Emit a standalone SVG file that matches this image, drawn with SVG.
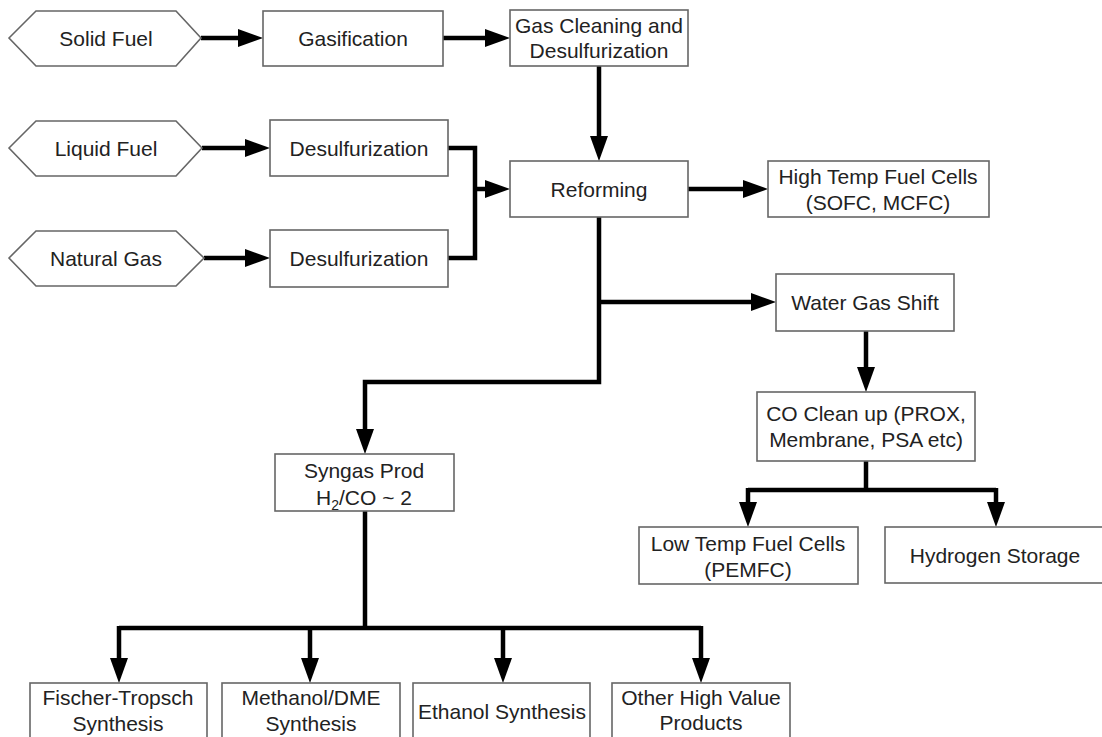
<svg xmlns="http://www.w3.org/2000/svg" width="1102" height="737" viewBox="0 0 1102 737">
<defs>
<marker id="ah" markerUnits="userSpaceOnUse" markerWidth="25" markerHeight="18" refX="0" refY="9" orient="auto" overflow="visible">
<path d="M0,0 L25,9 L0,18 Z" fill="#000"/>
</marker>
<style>
.box{fill:#fff;stroke:#666;stroke-width:1.6}
.t{font-family:"Liberation Sans",Arial,sans-serif;font-size:21px;fill:#222;text-anchor:middle}
.c{fill:none;stroke:#000;stroke-width:4.5;stroke-linejoin:miter}
.a{marker-end:url(#ah)}
</style>
</defs>
<rect width="1102" height="737" fill="#fff"/>
<g id="connectors">
<path class="c a" d="M201,38 H238"/>
<path class="c a" d="M443,38 H485"/>
<path class="c a" d="M599,66 V136"/>
<path class="c a" d="M202,148 H245"/>
<path class="c a" d="M204,258 H245"/>
<path class="c" d="M448,148 H475 V258 H448"/>
<path class="c a" d="M475,189 H485"/>
<path class="c a" d="M688,189 H743"/>
<path class="c a" d="M599,217 V382 H365 V429"/>
<path class="c a" d="M599,302 H751"/>
<path class="c a" d="M866,331 V367"/>
<path class="c" d="M866,461 V490"/>
<path class="c" d="M748,490 H996"/>
<path class="c a" d="M748,488 V502"/>
<path class="c a" d="M996,488 V502"/>
<path class="c" d="M365,511 V628"/>
<path class="c" d="M119,628 H701"/>
<path class="c a" d="M119,626 V658"/>
<path class="c a" d="M310,626 V658"/>
<path class="c a" d="M503,626 V658"/>
<path class="c a" d="M701,626 V658"/>
</g>
<g id="solid-fuel">
<polygon class="box" points="9,38 36,11 176,11 201,38 176,66 36,66"/>
<text class="t" x="106" y="45.5">Solid Fuel</text>
</g>
<g id="gasification">
<rect class="box" x="263" y="11" width="180" height="55"/>
<text class="t" x="353" y="45.5">Gasification</text>
</g>
<g id="gas-cleaning">
<rect class="box" x="510" y="10" width="178" height="56"/>
<text class="t" x="599" y="32.5">Gas Cleaning and</text>
<text class="t" x="599" y="58">Desulfurization</text>
</g>
<g id="liquid-fuel">
<polygon class="box" points="9,148 36,121 176,121 202,148 176,176 36,176"/>
<text class="t" x="106" y="155.5">Liquid Fuel</text>
</g>
<g id="desulf-1">
<rect class="box" x="270" y="120" width="178" height="56"/>
<text class="t" x="359" y="155.5">Desulfurization</text>
</g>
<g id="natural-gas">
<polygon class="box" points="9,258 36,231 176,231 204,258 176,286 36,286"/>
<text class="t" x="106" y="265.5">Natural Gas</text>
</g>
<g id="desulf-2">
<rect class="box" x="270" y="230" width="178" height="57"/>
<text class="t" x="359" y="265.5">Desulfurization</text>
</g>
<g id="reforming">
<rect class="box" x="510" y="161" width="178" height="56"/>
<text class="t" x="599" y="196.5">Reforming</text>
</g>
<g id="high-temp">
<rect class="box" x="768" y="161" width="221" height="56"/>
<text class="t" x="878" y="183.5">High Temp Fuel Cells</text>
<text class="t" x="878" y="209.5">(SOFC, MCFC)</text>
</g>
<g id="water-gas-shift">
<rect class="box" x="776" y="274" width="178" height="57"/>
<text class="t" x="865" y="309.5">Water Gas Shift</text>
</g>
<g id="co-cleanup">
<rect class="box" x="757" y="392" width="218" height="69"/>
<text class="t" x="866" y="420.5">CO Clean up (PROX,</text>
<text class="t" x="866" y="446.5">Membrane, PSA etc)</text>
</g>
<g id="low-temp">
<rect class="box" x="639" y="527" width="219" height="57"/>
<text class="t" x="748" y="550.5">Low Temp Fuel Cells</text>
<text class="t" x="748" y="577">(PEMFC)</text>
</g>
<g id="hydrogen-storage">
<rect class="box" x="885" y="527" width="221" height="56"/>
<text class="t" x="995" y="562.5">Hydrogen Storage</text>
</g>
<g id="syngas">
<rect class="box" x="275" y="454" width="179" height="57"/>
<text class="t" x="364" y="477.5">Syngas Prod</text>
<text class="t" x="364" y="504.5">H<tspan dy="5" font-size="14">2</tspan><tspan dy="-5">/CO ~ 2</tspan></text>
</g>
<g id="fischer-tropsch">
<rect class="box" x="30" y="683" width="177" height="62"/>
<text class="t" x="118" y="704.5">Fischer-Tropsch</text>
<text class="t" x="118" y="730.5">Synthesis</text>
</g>
<g id="methanol">
<rect class="box" x="222" y="683" width="178" height="62"/>
<text class="t" x="311" y="704.5">Methanol/DME</text>
<text class="t" x="311" y="730.5">Synthesis</text>
</g>
<g id="ethanol">
<rect class="box" x="413" y="683" width="177" height="62"/>
<text class="t" x="502" y="718.5">Ethanol Synthesis</text>
</g>
<g id="other">
<rect class="box" x="612" y="683" width="178" height="62"/>
<text class="t" x="701" y="704.5">Other High Value</text>
<text class="t" x="701" y="729.5">Products</text>
</g>
</svg>
